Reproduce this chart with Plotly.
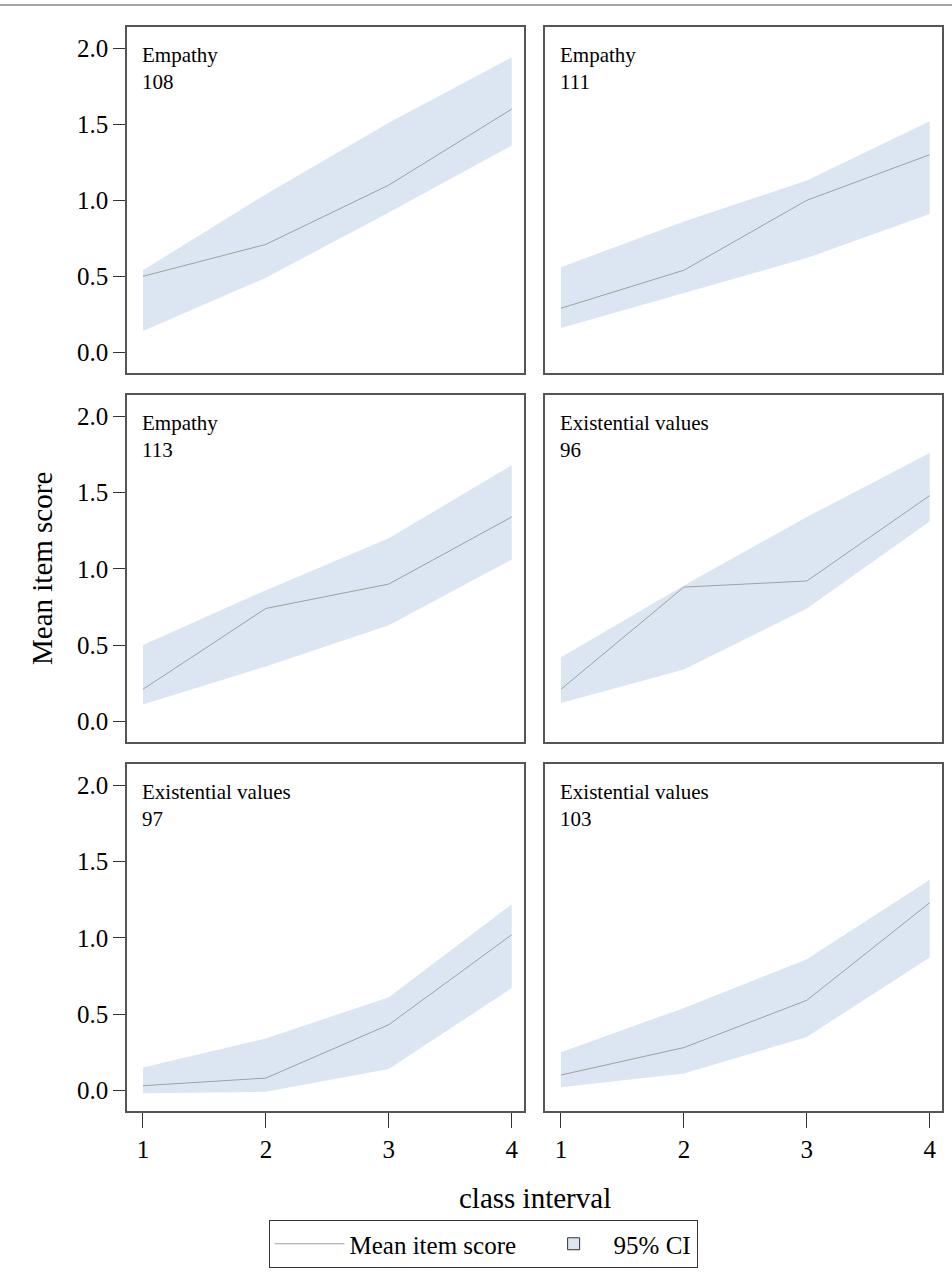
import plotly.graph_objects as go
from plotly.subplots import make_subplots

# ---------------- data ----------------
class_interval = [1, 2, 3, 4]
panel_item = ["Empathy", "Empathy", "Empathy",
              "Existential values", "Existential values", "Existential values"]
panel_number = ["108", "111", "113", "96", "97", "103"]

mean_108 = [0.50, 0.71, 1.10, 1.60]
upper_108 = [0.54, 1.04, 1.51, 1.94]
lower_108 = [0.14, 0.49, 0.92, 1.36]

mean_111 = [0.29, 0.54, 1.00, 1.30]
upper_111 = [0.56, 0.86, 1.13, 1.52]
lower_111 = [0.16, 0.39, 0.62, 0.91]

mean_113 = [0.21, 0.74, 0.90, 1.34]
upper_113 = [0.50, 0.86, 1.20, 1.68]
lower_113 = [0.11, 0.36, 0.63, 1.06]

mean_96 = [0.21, 0.88, 0.92, 1.48]
upper_96 = [0.42, 0.89, 1.34, 1.76]
lower_96 = [0.12, 0.34, 0.74, 1.31]

mean_97 = [0.03, 0.08, 0.43, 1.02]
upper_97 = [0.15, 0.34, 0.61, 1.22]
lower_97 = [-0.02, -0.01, 0.14, 0.67]

mean_103 = [0.10, 0.28, 0.59, 1.23]
upper_103 = [0.25, 0.54, 0.86, 1.38]
lower_103 = [0.02, 0.11, 0.35, 0.87]

y_ticks = [0.0, 0.5, 1.0, 1.5, 2.0]
x_ticks = [1, 2, 3, 4]

means = [mean_108, mean_111, mean_113, mean_96, mean_97, mean_103]
uppers = [upper_108, upper_111, upper_113, upper_96, upper_97, upper_103]
lowers = [lower_108, lower_111, lower_113, lower_96, lower_97, lower_103]

# ---------------- style ----------------
W, H = 952, 1280
FONT = "Liberation Serif"
FILL = "#dce6f2"
LINE = "#a0a0a0"
BORDER = "#555555"

col_px = [(127, 524), (545, 942)]
row_px = [(27, 373), (395, 742), (764, 1111)]

fig = make_subplots(rows=3, cols=2)

for i in range(6):
    r, c = i // 2 + 1, i % 2 + 1
    fig.add_trace(go.Scatter(x=class_interval, y=lowers[i], mode="lines",
                             line=dict(width=0, color=FILL), showlegend=False,
                             hoverinfo="skip"), row=r, col=c)
    fig.add_trace(go.Scatter(x=class_interval, y=uppers[i], mode="lines",
                             line=dict(width=0, color=FILL), fill="tonexty",
                             fillcolor=FILL, showlegend=False,
                             hoverinfo="skip"), row=r, col=c)
    fig.add_trace(go.Scatter(x=class_interval, y=means[i], mode="lines",
                             line=dict(width=1, color=LINE),
                             name="Mean item score  ", showlegend=(i == 0),
                             legendrank=1),
                  row=r, col=c)

# legend entry for CI
fig.add_trace(go.Scatter(x=[None], y=[None], mode="markers",
                         marker=dict(symbol="square", size=12, color=FILL,
                                     line=dict(color="#333333", width=1)),
                         name="95% CI", showlegend=True, legendrank=2),
              row=1, col=1)

for i in range(6):
    r, c = i // 2, i % 2
    n = "" if i == 0 else str(i + 1)
    x0, x1 = col_px[c]
    y0, y1 = row_px[r]
    fig.layout["xaxis" + n].update(
        domain=[x0 / W, x1 / W], range=[0.87, 4.10],
        tickvals=x_ticks, showgrid=False, zeroline=False,
        showline=True, linecolor=BORDER, linewidth=1.5, mirror=True,
        ticks="outside" if r == 2 else "", ticklen=15, tickwidth=1,
        tickcolor="#333333", showticklabels=(r == 2),
        tickfont=dict(family=FONT, size=25, color="black"))
    fig.layout["yaxis" + n].update(
        domain=[1 - y1 / H, 1 - y0 / H], range=[-0.136, 2.14],
        tickvals=y_ticks, tickformat=".1f", showgrid=False, zeroline=False,
        showline=True, linecolor=BORDER, linewidth=1.5, mirror=True,
        ticks="outside" if c == 0 else "", ticklen=12, tickwidth=1,
        tickcolor="#333333", showticklabels=(c == 0),
        tickfont=dict(family=FONT, size=25, color="black"))
    fig.add_annotation(
        xref="x" + n + " domain", yref="y" + n + " domain",
        x=13 / (x1 - x0), y=1 - 14 / (y1 - y0), xanchor="left", yanchor="top",
        text=panel_item[i] + "<br>" + panel_number[i], showarrow=False,
        align="left", font=dict(family=FONT, size=21, color="black"))

fig.add_annotation(xref="paper", yref="paper", x=42 / W, y=1 - 569 / H,
                   text="Mean item score", textangle=-90, showarrow=False,
                   xanchor="center", yanchor="middle",
                   font=dict(family=FONT, size=29, color="black"))
fig.add_annotation(xref="paper", yref="paper", x=535 / W, y=1 - 1198 / H,
                   text="class interval", showarrow=False,
                   xanchor="center", yanchor="middle",
                   font=dict(family=FONT, size=29, color="black"))

# image frame line at top
fig.add_shape(type="line", xref="paper", yref="paper", x0=0, x1=1,
              y0=1 - 5 / H, y1=1 - 5 / H, line=dict(color="#888888", width=1.5))

fig.update_layout(
    width=W, height=H, margin=dict(l=0, r=0, t=0, b=0),
    paper_bgcolor="white", plot_bgcolor="white",
    font=dict(family=FONT, color="black"),
    legend=dict(orientation="h", x=483 / W, xanchor="center",
                y=1 - 1220 / H, yanchor="top",
                bordercolor="#333333", borderwidth=1, bgcolor="white",
                font=dict(family=FONT, size=25, color="black"),
                itemwidth=70, traceorder="normal"),
)

fig.write_html("out.html")
